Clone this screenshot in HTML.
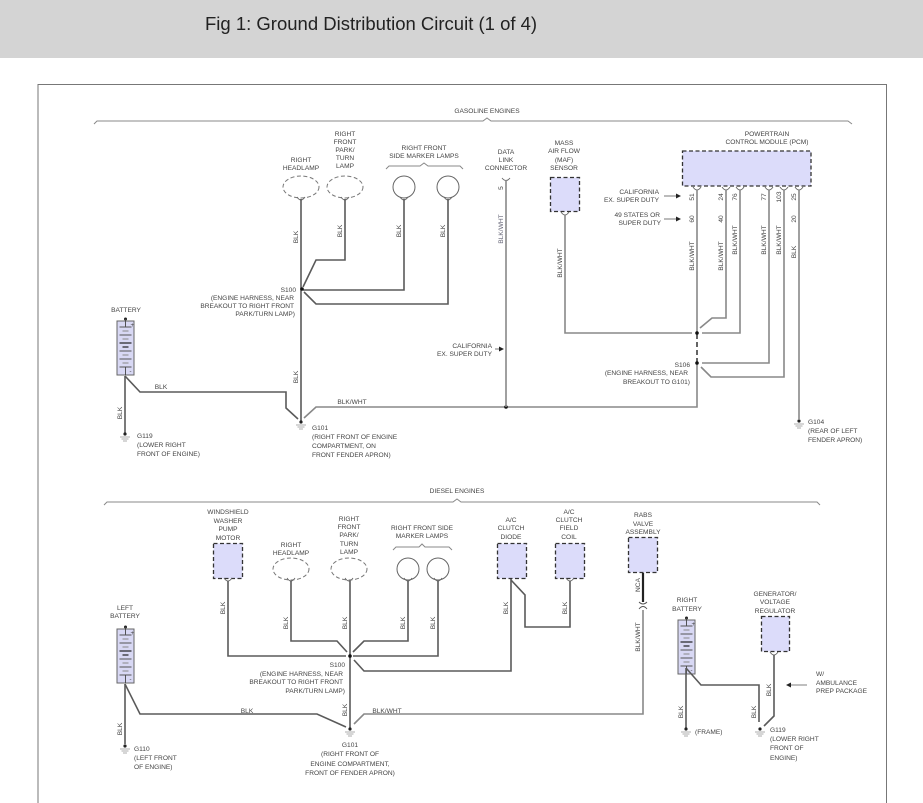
<!DOCTYPE html>
<html><head><meta charset="utf-8"><style>
html,body{margin:0;padding:0;background:#fff;width:923px;height:803px;overflow:hidden}
svg{display:block}
text{font-family:"Liberation Sans",sans-serif;font-size:6.6px;fill:#444}
.w{stroke:#5a5a5a;stroke-width:1.6;fill:none}
.g{stroke:#888;stroke-width:1.6;fill:none}
.br{stroke:#888;stroke-width:1;fill:none}
.box{fill:#dcdcfa;stroke:#333;stroke-width:1.3;stroke-dasharray:4,2.5}
.lamp{fill:#fff;stroke:#777;stroke-width:1;stroke-dasharray:4,2.5}
.circ{fill:#fff;stroke:#666;stroke-width:1}
.m{text-anchor:middle}
.e{text-anchor:end}
</style></head><body>
<svg width="923" height="803" viewBox="0 0 923 803" xmlns="http://www.w3.org/2000/svg">
<defs>
<g id="gnd"><circle cx="0" cy="0" r="1.6" fill="#222"/><line x1="-5" y1="3" x2="5" y2="3" stroke="#999" stroke-width="0.8"/><line x1="-3.5" y1="5" x2="3.5" y2="5" stroke="#999" stroke-width="0.8"/><line x1="-2" y1="7" x2="2" y2="7" stroke="#999" stroke-width="0.8"/></g>
<g id="con"><path d="M-4,-2 Q0,4 4,-2" stroke="#666" stroke-width="0.9" fill="none"/></g>
<g id="bat">
<rect x="-8.5" y="0" width="17" height="54" fill="#d8d8f4" stroke="#666" stroke-width="1"/>
<circle cx="0" cy="-2" r="1.5" fill="#222"/>
<line x1="0" y1="-2" x2="0" y2="6" stroke="#444" stroke-width="0.9"/>
<line x1="-6" y1="6" x2="6" y2="6" stroke="#555"/>
<line x1="-3" y1="10" x2="3" y2="10" stroke="#888"/>
<line x1="-6" y1="14" x2="6" y2="14" stroke="#555"/>
<line x1="-3" y1="18" x2="3" y2="18" stroke="#888"/>
<line x1="-6" y1="22" x2="6" y2="22" stroke="#222" stroke-width="1.2"/>
<line x1="-3" y1="26" x2="3" y2="26" stroke="#222" stroke-width="1.2"/>
<line x1="-6" y1="30" x2="6" y2="30" stroke="#555"/>
<line x1="-3" y1="34" x2="3" y2="34" stroke="#888"/>
<line x1="-6" y1="38" x2="6" y2="38" stroke="#555"/>
<line x1="-3" y1="42" x2="3" y2="42" stroke="#888"/>
<line x1="-6" y1="46" x2="6" y2="46" stroke="#555"/>
<line x1="0" y1="46" x2="0" y2="54" stroke="#444" stroke-width="0.9"/>
<text x="5" y="6" style="font-size:6px">+</text><text x="4" y="52" style="font-size:6px">-</text>
</g>
</defs>
<rect x="0" y="0" width="923" height="58" fill="#d4d4d4"/>
<text x="205" y="30" style="font-size:18.5px;fill:#222">Fig 1: Ground Distribution Circuit (1 of 4)</text>
<path d="M38,803 V84.5 H886.5 V803" stroke="#777" stroke-width="1" fill="none"/>

<!-- ===== GASOLINE ===== -->
<text x="487" y="113" class="m">GASOLINE ENGINES</text>
<path class="br" d="M94,124 L97,121 H483 L487,118 L491,121 H848 L852,124"/>

<text x="301" y="162" class="m">RIGHT</text><text x="301" y="170" class="m">HEADLAMP</text>
<text x="345" y="136" class="m">RIGHT</text><text x="345" y="144" class="m">FRONT</text><text x="345" y="152" class="m">PARK/</text><text x="345" y="160" class="m">TURN</text><text x="345" y="168" class="m">LAMP</text>
<text x="424" y="150" class="m">RIGHT FRONT</text><text x="424" y="158" class="m">SIDE MARKER LAMPS</text>
<path class="br" d="M386,169 L389,166 H420 L424,163 L428,166 H460 L463,169"/>
<ellipse cx="301" cy="187" rx="18" ry="11" class="lamp"/>
<ellipse cx="345" cy="187" rx="18" ry="11" class="lamp"/>
<circle cx="404" cy="187" r="11" class="circ"/>
<circle cx="448" cy="187" r="11" class="circ"/>
<use href="#con" x="301" y="199"/><use href="#con" x="345" y="199"/><use href="#con" x="404" y="199"/><use href="#con" x="448" y="199"/>

<path class="w" d="M301,199 V422"/>
<path class="w" d="M345,199 V260 H316 L303,287"/>
<path class="w" d="M404,199 V290 H303"/>
<path class="w" d="M448,199 V304 H316 L304,292"/>
<circle cx="302" cy="289" r="1.8" fill="#111"/>
<g transform="translate(298,237) rotate(-90)"><text class="m">BLK</text></g>
<g transform="translate(342,231) rotate(-90)"><text class="m">BLK</text></g>
<g transform="translate(401,231) rotate(-90)"><text class="m">BLK</text></g>
<g transform="translate(445,231) rotate(-90)"><text class="m">BLK</text></g>
<g transform="translate(298,377) rotate(-90)"><text class="m">BLK</text></g>
<text x="296" y="292" class="e">S100</text>
<text x="294" y="300" class="e">(ENGINE HARNESS, NEAR</text>
<text x="294" y="308" class="e">BREAKOUT TO RIGHT FRONT</text>
<text x="295" y="316" class="e">PARK/TURN LAMP)</text>

<text x="126" y="312" class="m">BATTERY</text>
<use href="#bat" x="125.5" y="321"/>
<path class="w" d="M125,376 V433"/>
<path class="w" d="M125,376 L140,392 H286 V408 L298,419"/>
<text x="161" y="389" class="m">BLK</text>
<g transform="translate(122,413) rotate(-90)"><text class="m">BLK</text></g>
<use href="#gnd" x="125" y="434"/>
<text x="137" y="438">G119</text><text x="137" y="447">(LOWER RIGHT</text><text x="137" y="456">FRONT OF ENGINE)</text>
<use href="#gnd" x="301" y="422"/>
<text x="312" y="430">G101</text><text x="312" y="439">(RIGHT FRONT OF ENGINE</text><text x="312" y="448">COMPARTMENT, ON</text><text x="312" y="457">FRONT FENDER APRON)</text>

<path class="g" d="M304,418 L316,407 H697 V363"/>
<text x="352" y="404" class="m">BLK/WHT</text>
<circle cx="506" cy="407" r="1.8" fill="#111"/>

<text x="506" y="154" class="m">DATA</text><text x="506" y="162" class="m">LINK</text><text x="506" y="170" class="m">CONNECTOR</text>
<path d="M502,178 Q506,183 510,178" stroke="#666" stroke-width="0.9" fill="none"/>
<path class="g" d="M506,180 V407"/>
<g transform="translate(503,188) rotate(-90)"><text class="m">5</text></g>
<g transform="translate(503,229) rotate(-90)"><text class="m" style="fill:#667">BLK/WHT</text></g>
<text x="492" y="348" class="e">CALIFORNIA</text><text x="492" y="356" class="e">EX. SUPER DUTY</text>
<path d="M495,349 H500" stroke="#555" stroke-width="0.8"/><path d="M499,346.5 L504,349 L499,351.5Z" fill="#222"/>

<text x="564" y="145" class="m">MASS</text><text x="564" y="153" class="m">AIR FLOW</text><text x="564" y="162" class="m">(MAF)</text><text x="564" y="170" class="m">SENSOR</text>
<rect x="550.5" y="177.5" width="29" height="34" class="box"/>
<use href="#con" x="565" y="214"/>
<path class="g" d="M565,215 V333 H692"/>
<g transform="translate(562,263) rotate(-90)"><text class="m">BLK/WHT</text></g>

<text x="767" y="136" class="m">POWERTRAIN</text><text x="767" y="144" class="m">CONTROL MODULE (PCM)</text>
<rect x="682.5" y="151" width="128.5" height="35" class="box"/>
<use href="#con" x="697" y="189"/><use href="#con" x="726" y="189"/><use href="#con" x="740" y="189"/><use href="#con" x="769" y="189"/><use href="#con" x="784" y="189"/><use href="#con" x="799" y="189"/>
<path class="g" d="M697,190 V333"/>
<path class="g" d="M697,334 V362" stroke-dasharray="5,3" style="stroke:#222;stroke-width:1.4"/>
<circle cx="697" cy="333" r="1.8" fill="#111"/>
<circle cx="697" cy="363" r="1.8" fill="#111"/>
<path class="g" d="M726,190 V318 H712 L700,328"/>
<path class="g" d="M740,190 V333 H702"/>
<path class="g" d="M769,190 V363 H702"/>
<path class="g" d="M784,190 V377 H711 L701,367"/>
<path class="g" d="M799,190 V419"/>
<use href="#gnd" x="799" y="421"/>
<text x="808" y="424">G104</text><text x="808" y="433">(REAR OF LEFT</text><text x="808" y="442">FENDER APRON)</text>
<g transform="translate(694,197) rotate(-90)"><text class="m">51</text></g>
<g transform="translate(694,219) rotate(-90)"><text class="m">60</text></g>
<g transform="translate(723,197) rotate(-90)"><text class="m">24</text></g>
<g transform="translate(723,219) rotate(-90)"><text class="m">40</text></g>
<g transform="translate(737,197) rotate(-90)"><text class="m">76</text></g>
<g transform="translate(766,197) rotate(-90)"><text class="m">77</text></g>
<g transform="translate(781,197) rotate(-90)"><text class="m">103</text></g>
<g transform="translate(796,197) rotate(-90)"><text class="m">25</text></g>
<g transform="translate(796,219) rotate(-90)"><text class="m">20</text></g>
<g transform="translate(694,256) rotate(-90)"><text class="m">BLK/WHT</text></g>
<g transform="translate(723,256) rotate(-90)"><text class="m">BLK/WHT</text></g>
<g transform="translate(737,240) rotate(-90)"><text class="m">BLK/WHT</text></g>
<g transform="translate(766,240) rotate(-90)"><text class="m">BLK/WHT</text></g>
<g transform="translate(781,240) rotate(-90)"><text class="m">BLK/WHT</text></g>
<g transform="translate(796,252) rotate(-90)"><text class="m">BLK</text></g>
<text x="659" y="194" class="e">CALIFORNIA</text><text x="659" y="202" class="e">EX. SUPER DUTY</text>
<path d="M664,196 H677" stroke="#555" stroke-width="0.8"/><path d="M676,193.5 L681,196 L676,198.5Z" fill="#222"/>
<text x="660" y="217" class="e">49 STATES OR</text><text x="661" y="225" class="e">SUPER DUTY</text>
<path d="M664,219 H677" stroke="#555" stroke-width="0.8"/><path d="M676,216.5 L681,219 L676,221.5Z" fill="#222"/>
<text x="690" y="367" class="e">S106</text><text x="688" y="375" class="e">(ENGINE HARNESS, NEAR</text><text x="690" y="384" class="e">BREAKOUT TO G101)</text>

<!-- ===== DIESEL ===== -->
<text x="457" y="493" class="m">DIESEL ENGINES</text>
<path class="br" d="M104,505 L107,502 H453 L457,499 L461,502 H817 L820,505"/>

<text x="228" y="514" class="m">WINDSHIELD</text><text x="228" y="523" class="m">WASHER</text><text x="228" y="531" class="m">PUMP</text><text x="228" y="540" class="m">MOTOR</text>
<rect x="213.5" y="543.5" width="29" height="35" class="box"/>
<text x="291" y="547" class="m">RIGHT</text><text x="291" y="555" class="m">HEADLAMP</text>
<ellipse cx="291" cy="569" rx="18" ry="11" class="lamp"/>
<text x="349" y="521" class="m">RIGHT</text><text x="349" y="529" class="m">FRONT</text><text x="349" y="537" class="m">PARK/</text><text x="349" y="546" class="m">TURN</text><text x="349" y="554" class="m">LAMP</text>
<ellipse cx="349" cy="569" rx="18" ry="11" class="lamp"/>
<text x="422" y="530" class="m">RIGHT FRONT SIDE</text><text x="422" y="538" class="m">MARKER LAMPS</text>
<path class="br" d="M393,550 L396,547 H419 L422,544 L425,547 H449 L452,550"/>
<circle cx="408" cy="569" r="11" class="circ"/><circle cx="438" cy="569" r="11" class="circ"/>
<text x="511" y="522" class="m">A/C</text><text x="511" y="530" class="m">CLUTCH</text><text x="511" y="539" class="m">DIODE</text>
<rect x="497.5" y="543.5" width="29" height="35" class="box"/>
<text x="569" y="514" class="m">A/C</text><text x="569" y="522" class="m">CLUTCH</text><text x="569" y="530" class="m">FIELD</text><text x="569" y="539" class="m">COIL</text>
<rect x="555.5" y="543.5" width="29" height="35" class="box"/>
<text x="643" y="517" class="m">RABS</text><text x="643" y="526" class="m">VALVE</text><text x="643" y="534" class="m">ASSEMBLY</text>
<rect x="628.5" y="537.5" width="29" height="35" class="box"/>
<use href="#con" x="228" y="580"/><use href="#con" x="291" y="580"/><use href="#con" x="349" y="580"/><use href="#con" x="408" y="580"/><use href="#con" x="438" y="580"/><use href="#con" x="570" y="580"/>

<path class="w" d="M228,581 V656 H346"/>
<path class="w" d="M291,581 V641 H337 L347,652"/>
<path class="w" d="M350,581 V728"/>
<path class="w" d="M408,581 V641 H364 L353,652"/>
<path class="w" d="M438,581 V656 H353"/>
<path class="w" d="M511,579 V671 H364 L354,660"/>
<path class="w" d="M511,580 L525,595 V627 H570 V581"/>
<circle cx="350" cy="656" r="1.8" fill="#111"/>
<g transform="translate(225,608) rotate(-90)"><text class="m">BLK</text></g>
<g transform="translate(288,623) rotate(-90)"><text class="m">BLK</text></g>
<g transform="translate(347,623) rotate(-90)"><text class="m">BLK</text></g>
<g transform="translate(405,623) rotate(-90)"><text class="m">BLK</text></g>
<g transform="translate(435,623) rotate(-90)"><text class="m">BLK</text></g>
<g transform="translate(508,608) rotate(-90)"><text class="m">BLK</text></g>
<g transform="translate(567,608) rotate(-90)"><text class="m">BLK</text></g>
<g transform="translate(347,710) rotate(-90)"><text class="m">BLK</text></g>
<text x="345" y="667" class="e">S100</text><text x="343" y="676" class="e">(ENGINE HARNESS, NEAR</text><text x="343" y="684" class="e">BREAKOUT TO RIGHT FRONT</text><text x="345" y="693" class="e">PARK/TURN LAMP)</text>

<text x="125" y="610" class="m">LEFT</text><text x="125" y="618" class="m">BATTERY</text>
<use href="#bat" x="125.5" y="629"/>
<path class="w" d="M125,684 V744"/>
<path class="w" d="M125,684 L140,714 H317 L346,727"/>
<text x="247" y="713" class="m">BLK</text>
<g transform="translate(122,729) rotate(-90)"><text class="m">BLK</text></g>
<use href="#gnd" x="125" y="746"/>
<text x="134" y="751">G110</text><text x="134" y="760">(LEFT FRONT</text><text x="134" y="769">OF ENGINE)</text>
<use href="#gnd" x="350" y="729"/>
<text x="350" y="747" class="m">G101</text><text x="350" y="756" class="m">(RIGHT FRONT OF</text><text x="350" y="766" class="m">ENGINE COMPARTMENT,</text><text x="350" y="775" class="m">FRONT OF FENDER APRON)</text>

<path class="g" d="M354,724 L364,714 H643 V610"/>
<text x="387" y="713" class="m">BLK/WHT</text>
<path d="M643,573 V602" stroke="#222" stroke-width="2.2"/>
<path d="M639,602 Q643,606 647,602 M639,609 Q643,604 647,609" stroke="#555" stroke-width="0.9" fill="none"/>
<g transform="translate(640,585) rotate(-90)"><text class="m">NCA</text></g>
<g transform="translate(640,637) rotate(-90)"><text class="m">BLK/WHT</text></g>

<text x="687" y="602" class="m">RIGHT</text><text x="687" y="611" class="m">BATTERY</text>
<use href="#bat" x="686.5" y="620"/>
<path class="w" d="M686,668 V728"/>
<path class="w" d="M686,668 L701,685 H759 V722"/>
<g transform="translate(683,712) rotate(-90)"><text class="m">BLK</text></g>
<g transform="translate(756,712) rotate(-90)"><text class="m">BLK</text></g>
<use href="#gnd" x="686" y="729"/>
<text x="695" y="734">(FRAME)</text>
<text x="775" y="596" class="m">GENERATOR/</text><text x="775" y="604" class="m">VOLTAGE</text><text x="775" y="613" class="m">REGULATOR</text>
<rect x="761.5" y="616.5" width="28" height="35" class="box"/>
<use href="#con" x="774" y="654"/>
<path class="w" d="M774,655 V716 L764,726"/>
<g transform="translate(771,690) rotate(-90)"><text class="m">BLK</text></g>
<path d="M790,685 H807" stroke="#555" stroke-width="0.8"/><path d="M791,682.5 L786,685 L791,687.5Z" fill="#222"/>
<text x="816" y="676">W/</text><text x="816" y="685">AMBULANCE</text><text x="816" y="693">PREP PACKAGE</text>
<use href="#gnd" x="760" y="729"/>
<text x="770" y="732">G119</text><text x="770" y="741">(LOWER RIGHT</text><text x="770" y="750">FRONT OF</text><text x="770" y="760">ENGINE)</text>
</svg>
</body></html>
